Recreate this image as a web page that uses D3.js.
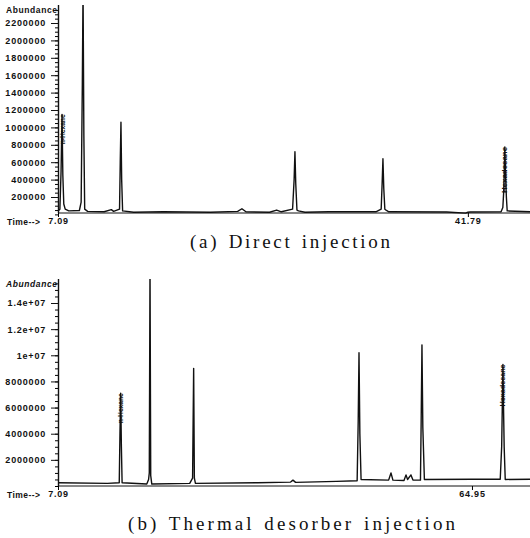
<!DOCTYPE html>
<html>
<head>
<meta charset="utf-8">
<script src="https://cdn.jsdelivr.net/npm/d3@7"></script>
<style>
  body { margin: 0; background: #fff; }
  svg { display: block; }
  .tick text { font-family: "Liberation Sans", Arial, sans-serif; font-weight: bold; font-size: 9px; letter-spacing: 0.8px; fill: #111; }
  .lbl { font-family: "Liberation Sans", Arial, sans-serif; font-weight: bold; font-size: 8.5px; fill: #111; }
  .pk { font-family: "Liberation Sans", Arial, sans-serif; font-weight: bold; font-size: 7px; fill: #111; }
  .cap { font-family: "Liberation Serif", "DejaVu Serif", serif; font-size: 19px; word-spacing: 2px; fill: #111; }
</style>
</head>
<body>
<div id="chart"></div>
<script>
// (a) Direct injection : retention time (min) / abundance
var timeA  = [7.09, 7.25, 7.35, 7.43, 7.50, 7.58, 7.70, 8.0, 8.9, 9.05, 9.15, 9.21, 9.28, 9.35, 9.6,
              11.0, 11.6, 11.8, 12.30, 12.36, 12.42, 12.48, 12.56, 13.5, 16.0, 20.0, 22.3, 22.66, 23.0,
              25.0, 25.6, 26.0, 26.95, 27.08, 27.15, 27.22, 27.32, 27.45, 28.0, 30.0, 34.0, 34.45, 34.53,
              34.6, 34.67, 34.76, 34.9, 35.1, 40.0, 41.6, 41.79, 42.0, 44.6, 44.75, 44.82, 44.88, 44.92,
              44.98, 45.05, 45.12, 47.05];
var abundA = [40000, 60000, 500000, 1150000, 450000, 120000, 60000, 40000, 45000, 140000, 1500000, 2600000, 900000, 60000, 35000,
              30000, 55000, 35000, 60000, 600000, 1060000, 400000, 40000, 25000, 30000, 25000, 35000, 65000, 30000,
              25000, 50000, 30000, 60000, 400000, 720000, 350000, 50000, 40000, 25000, 30000, 30000, 60000, 350000,
              640000, 300000, 60000, 45000, 30000, 28000, 15000, 25000, 28000, 30000, 80000, 250000, 500000, 775000,
              450000, 200000, 40000, 30000];
var yTicksA = [200000, 400000, 600000, 800000, 1000000, 1200000, 1400000, 1600000, 1800000, 2000000, 2200000];
var yTickLabelsA = ["200000", "400000", "600000", "800000", "1000000", "1200000", "1400000", "1600000", "1800000", "2000000", "2200000"];
var peakNamesA = [{t: 7.43, v: 1150000, name: "n-Hexane", len: 30}, {t: 44.92, v: 775000, name: "Hexadecane", len: 46}];

// (b) Thermal desorber injection
var timeB  = [7.09, 14.0, 15.65, 15.75, 15.85, 15.95, 16.05, 19.5, 19.75, 19.85, 19.95, 20.05, 20.2,
              25.5, 25.9, 26.05, 26.15, 26.3, 35.0, 39.6, 39.93, 40.3, 46.0, 48.9, 49.05, 49.16, 49.28, 49.45,
              53.3, 53.63, 53.9, 55.45, 55.73, 55.95, 56.42, 56.7, 57.75, 57.85, 57.96, 58.08, 58.3,
              64.95, 68.9, 69.1, 69.2, 69.28, 69.36, 69.45, 69.6, 73.06];
var abundB = [250000, 200000, 250000, 4000000, 7100000, 3000000, 250000, 150000, 500000, 1000000, 17000000, 800000, 150000,
              200000, 600000, 9000000, 600000, 200000, 250000, 300000, 450000, 280000, 350000, 400000, 5000000, 10200000, 4000000, 500000,
              450000, 1000000, 450000, 420000, 850000, 500000, 850000, 450000, 450000, 5000000, 10800000, 4500000, 500000,
              520000, 520000, 3000000, 6500000, 9300000, 6000000, 3000000, 500000, 520000];
var yTicksB = [2000000, 4000000, 6000000, 8000000, 10000000, 12000000, 14000000];
var yTickLabelsB = ["2000000", "4000000", "6000000", "8000000", "1e+07", "1.2e+07", "1.4e+07"];
var peakNamesB = [{t: 15.85, v: 7100000, name: "n-Hexane", len: 30}, {t: 69.28, v: 9300000, name: "Hexadecane", len: 42}];

var svg = d3.select("#chart").append("svg")
  .attr("width", 530)
  .attr("height", 538);

function panel(cfg) {
  var x = d3.scaleLinear().domain(cfg.tDomain).range([58, 530]);
  var y = d3.scaleLinear().domain([0, cfg.vMax]).range([cfg.y0, cfg.yMax]);
  var g = svg.append("g");

  g.append("clipPath").attr("id", cfg.id)
    .append("rect").attr("x", 58).attr("y", cfg.top).attr("width", 472).attr("height", cfg.y0 - cfg.top + 10);

  // minor ticks
  g.append("g")
    .attr("transform", "translate(58,0)")
    .call(d3.axisLeft(y).tickValues(d3.range(0, cfg.minorMax + 1, cfg.minorStep)).tickSize(3).tickFormat(""))
    .call(function(s) { s.select(".domain").remove(); });

  var ya = g.append("g")
    .attr("transform", "translate(58,0)")
    .call(d3.axisLeft(y).tickValues(cfg.ticks).tickSize(7).tickPadding(5)
      .tickFormat(function(d, i) { return cfg.tickLabels[i]; }));
  ya.select(".domain").remove();
  ya.selectAll("line").attr("stroke", "#111");

  g.append("line").attr("x1", 58.5).attr("x2", 58.5).attr("y1", cfg.top).attr("y2", cfg.axisY)
    .attr("stroke", "#111").attr("stroke-width", 1.4);
  g.append("line").attr("x1", 58).attr("x2", 530).attr("y1", cfg.axisY).attr("y2", cfg.axisY)
    .attr("stroke", "#111").attr("stroke-width", 1);

  // time ticks
  g.append("g")
    .attr("transform", "translate(0," + cfg.axisY + ")")
    .call(d3.axisBottom(x).tickValues(cfg.tTicks).tickSize(4).tickPadding(1).tickFormat(d3.format(".2f")))
    .call(function(s) { s.select(".domain").remove(); });

  g.append("text").attr("class", "lbl").attr("x", 7).attr("y", cfg.axisY + 12)
    .attr("textLength", 33).text("Time-->");
  g.append("text").attr("class", "lbl").attr("x", 6).attr("y", cfg.top + 8)
    .attr("textLength", 51)
    .style("font-style", cfg.italic ? "italic" : "normal").text("Abundance");

  var line = d3.line()
    .x(function(d) { return x(d[0]); })
    .y(function(d) { return y(d[1]); });

  g.append("path")
    .datum(d3.zip(cfg.time, cfg.abund))
    .attr("clip-path", "url(#" + cfg.id + ")")
    .attr("fill", "none")
    .attr("stroke", "#111")
    .attr("stroke-width", 1.4)
    .attr("stroke-linejoin", "round")
    .attr("d", line);

  g.selectAll(".pk")
    .data(cfg.peaks)
    .enter().append("text")
    .attr("class", "pk")
    .attr("textLength", function(d) { return d.len; })
    .attr("lengthAdjust", "spacingAndGlyphs")
    .attr("transform", function(d) {
      return "translate(" + (x(d.t) + 2.5) + "," + (y(d.v) + d.len) + ") rotate(-90)";
    })
    .text(function(d) { return d.name; });

  svg.append("text").attr("class", "cap")
    .attr("x", cfg.capX).attr("y", cfg.capY)
    .attr("textLength", cfg.capLen)
    .attr("lengthAdjust", "spacing")
    .text(cfg.caption);
}

panel({
  id: "clipA", time: timeA, abund: abundA, tDomain: [7.09, 47.05], tTicks: [7.09, 41.79],
  vMax: 2200000, y0: 214.4, yMax: 23, top: 5, axisY: 213,
  ticks: yTicksA, tickLabels: yTickLabelsA, minorStep: 50000, minorMax: 2350000,
  peaks: peakNamesA, caption: "(a) Direct injection", capX: 190, capLen: 200, capY: 248, italic: false
});

panel({
  id: "clipB", time: timeB, abund: abundB, tDomain: [7.09, 73.06], tTicks: [7.09, 64.95],
  vMax: 14000000, y0: 486, yMax: 303, top: 279, axisY: 486,
  ticks: yTicksB, tickLabels: yTickLabelsB, minorStep: 500000, minorMax: 15500000,
  peaks: peakNamesB, caption: "(b) Thermal desorber injection", capX: 128, capLen: 327, capY: 530, italic: true
});
</script>
</body>
</html>
